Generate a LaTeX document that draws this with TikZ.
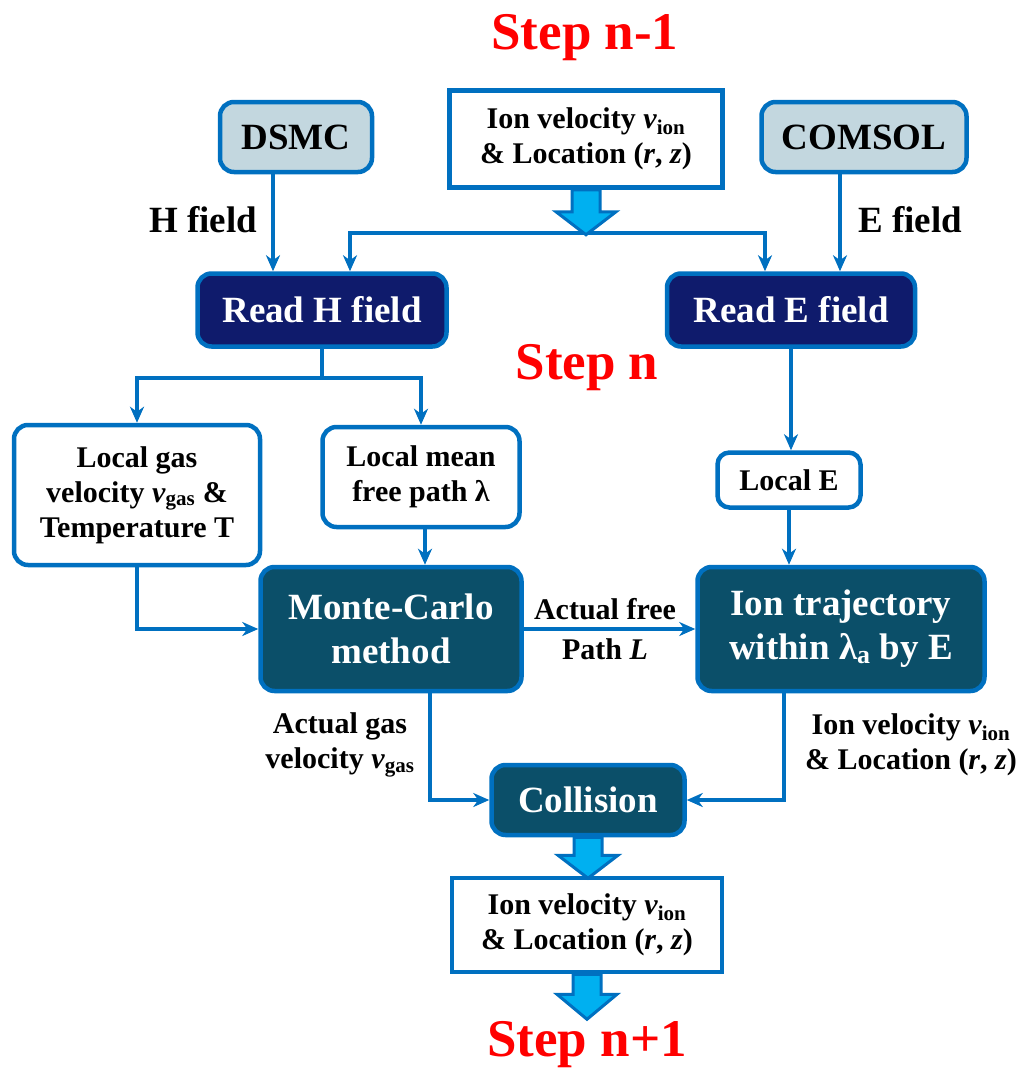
\documentclass[tikz,border=0pt]{standalone}
\usepackage{fontspec}
\setmainfont{Liberation Serif}
\usetikzlibrary{arrows.meta,calc}
\definecolor{lineblue}{HTML}{0070C0}
\definecolor{palefill}{HTML}{C3D7DF}
\definecolor{navyfill}{HTML}{0F1B6C}
\definecolor{tealfill}{HTML}{0B4F69}
\definecolor{fatfill}{HTML}{00B0F0}
\newcommand\bigtxt{\fontsize{37}{44}\selectfont\bfseries}
\newcommand\smalltxt{\fontsize{30}{35}\selectfont\bfseries}
\newcommand\steptxt{\fontsize{53}{60}\selectfont\bfseries}
\newcommand\vion{\textit{v}\textsubscript{ion}}
\newcommand\vgas{\textit{v}\textsubscript{gas}}
\newcommand\loc{\& Location (\textit{r}, \textit{z})}
% block arrow: start, shaft length, head length
\newcommand\fatarrow[3]{
  \draw[fatarr] (#1) ++(-14,0) -- ++(0,#2) -- ++(-16,0)
    -- ++(30,#3) -- ++(30,-#3) -- ++(-16,0) -- ++(0,-#2) -- cycle;
}
\tikzset{
  box/.style={draw=lineblue,line width=4.5pt,rounded corners=14pt,align=center,inner sep=0pt},
  palebox/.style={box,fill=palefill,font=\bigtxt},
  readbox/.style={box,fill=navyfill,text=white,font=\bigtxt},
  mcbox/.style={box,fill=tealfill,text=white,font=\bigtxt},
  plainbox/.style={box,fill=white,font=\smalltxt},
  squarebox/.style={plainbox,rounded corners=0pt},
  link/.style={draw=lineblue,line width=3.5pt},
  conn/.style={link,-{Stealth[length=16pt,width=14pt,inset=5pt]}},
  fatarr/.style={draw=lineblue,line width=3pt,fill=fatfill,line join=miter},
  lbl/.style={font=\smalltxt,align=center},
  steplbl/.style={font=\steptxt,text=red},
}
\begin{document}
\begin{tikzpicture}[x=1pt,y=-1pt]
  \useasboundingbox (0,0) rectangle (1024,1074);
  % step labels
  \node[steplbl] (stepa) at (585,38) {Step n-1};
  \node[steplbl] (stepb) at (587,368) {Step n};
  \node[steplbl] (stepc) at (587,1045) {Step n+1};
  % sources
  \node[palebox,minimum width=152,minimum height=70] (dsmc) at (296,137) {DSMC};
  \node[palebox,minimum width=205,minimum height=70] (comsol) at (864,137) {COMSOL};
  \node[squarebox,minimum width=273,minimum height=97] (ionold) at (586,139)
    {Ion velocity \vion\\ \loc};
  % field readers
  \node[readbox,minimum width=249,minimum height=73] (readh) at (322,310) {Read H field};
  \node[readbox,minimum width=248,minimum height=73] (reade) at (791,310) {Read E field};
  % local quantities
  \node[plainbox,minimum width=246,minimum height=140] (gas) at (137,495)
    {Local gas\\ velocity \vgas\ \&\\ Temperature T};
  \node[plainbox,minimum width=197,minimum height=100] (mean) at (421,477)
    {Local mean\\ free path λ};
  \node[plainbox,minimum width=143,minimum height=55,rounded corners=12pt] (loce) at (789,480)
    {Local E};
  % solvers
  \node[mcbox,minimum width=261,minimum height=124] (monte) at (391,629)
    {Monte-Carlo\\ method};
  \node[mcbox,minimum width=287,minimum height=124] (traj) at (841,629)
    {Ion trajectory\\ within λ\textsubscript{a} by E};
  \node[mcbox,minimum width=193,minimum height=70] (coll) at (588,800) {Collision};
  \node[squarebox,minimum width=270,minimum height=94] (ionnew) at (587,925)
    {Ion velocity \vion\\ \loc};
  % edge labels
  \node[lbl,font=\bigtxt] (hlbl) at (203,220) {H field};
  \node[lbl,font=\bigtxt] (elbl) at (910,220) {E field};
  \node[lbl,font=\fontsize{30}{40}\selectfont\bfseries] (pathlbl) at (605,629)
    {Actual free\\ Path \textit{L}};
  \node[lbl] (gaslbl) at (340,745) {Actual gas\\ velocity \vgas};
  \node[lbl] (ionlbl) at (911,745) {Ion velocity \vion\\ \loc};
  % connectors
  \coordinate (splith) at (586,233);
  \coordinate (splitg) at (322,378);
  \draw[conn] ([xshift=-23pt]dsmc.south) -- ([xshift=-49pt]readh.north);
  \draw[conn] ([xshift=-24pt]comsol.south) -- ([xshift=49pt]reade.north);
  \draw[conn] (splith) -| ([xshift=28pt]readh.north);
  \draw[conn] (splith) -| ([xshift=-26pt]reade.north);
  \draw[link] (readh.south) -- (splitg);
  \draw[conn] (splitg) -| (gas.north);
  \draw[conn] (splitg) -| (mean.north);
  \draw[conn] (reade.south) -- (reade.south |- loce.north);
  \draw[conn] (loce.south) -- (loce.south |- traj.north);
  \draw[conn] ([xshift=4pt]mean.south) -- ([xshift=4pt]mean.south |- monte.north);
  \draw[conn] (gas.south) |- (monte.west);
  \draw[conn] (monte.east) -- (traj.west);
  \draw[conn] ([xshift=39pt]monte.south) |- (coll.west);
  \draw[conn] ([xshift=-57pt]traj.south) |- (coll.east);
  % block arrows
  \fatarrow{ionold.south}{22}{23}
  \fatarrow{coll.south}{18}{23}
  \fatarrow{ionnew.south}{20}{25}
\end{tikzpicture}
\end{document}
